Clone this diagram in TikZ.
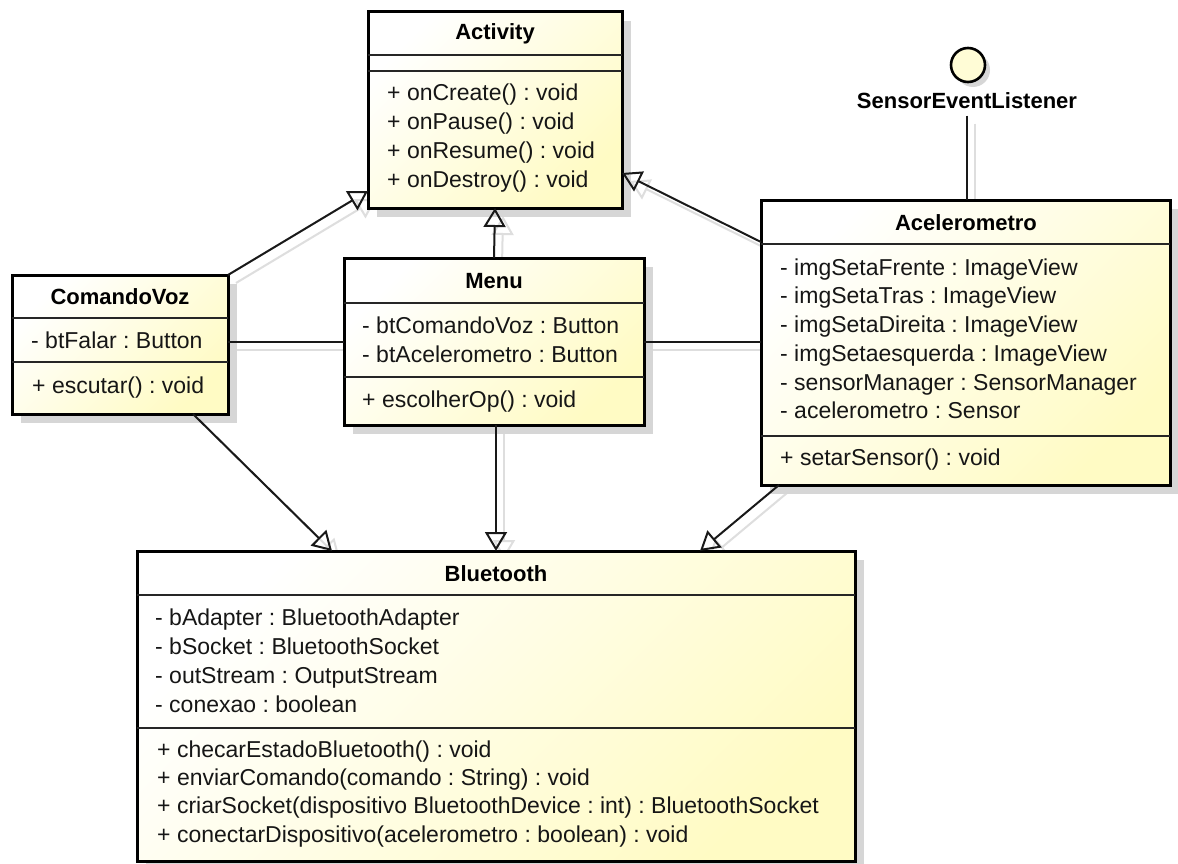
\documentclass[tikz,border=0pt]{standalone}
\usepackage{fontspec}
\setmainfont{Liberation Sans}
\usetikzlibrary{arrows.meta,shadows}
\definecolor{cream}{RGB}{255,251,196}
\definecolor{txtc}{RGB}{22,22,22}
\pgfdeclarelayer{bg}
\pgfsetlayers{bg,main}
\frenchspacing
\begin{document}
\begin{tikzpicture}[x=1pt,y=-1pt,
  classbox/.style={draw=black, line width=3pt, inner sep=0pt, outer sep=0pt, anchor=north west,
    top color=white, bottom color=cream, shading angle=45,
    drop shadow={shadow xshift=9pt, shadow yshift=-9pt, fill=black!16, opacity=1}},
  sepline/.style={draw=black!85, line width=1.6pt},
  mem/.style={anchor=west, inner sep=0pt, text=txtc, text height=16pt, text depth=5pt,
    font=\fontsize{23}{27}\selectfont},
  ttl/.style={anchor=center, inner sep=0pt, text=black, text height=16pt, text depth=5pt,
    font=\fontsize{22}{26}\selectfont\bfseries},
  gen/.style={draw=black!90, line width=2pt, -{Triangle[open, length=19pt, width=22pt, line width=2pt]}},
  assoc/.style={draw=black!90, line width=2pt},
  lshadow/.style={draw=black!13, line width=2pt},
  lshadowgen/.style={draw=black!13, line width=2pt, -{Triangle[open, length=19pt, width=22pt, line width=2pt]}},
]
\useasboundingbox (0,0) rectangle (1178,864);

% ---------- Activity ----------
\node[classbox, minimum width=254pt, minimum height=196pt] (act) at (368,12) {};
\node[ttl] (actT) at (495,34) {Activity};
\draw[sepline] (act.west |- 0,55) -- (act.east |- 0,55);
\draw[sepline] (act.west |- 0,71) -- (act.east |- 0,71);
\node[mem] (actM1) at (387,95) {+ onCreate() : void};
\node[mem] (actM2) at (387,124) {+ onPause() : void};
\node[mem] (actM3) at (387,153) {+ onResume() : void};
\node[mem] (actM4) at (387,182) {+ onDestroy() : void};

% ---------- ComandoVoz ----------
\node[classbox, minimum width=216pt, minimum height=139pt] (cv) at (12,275) {};
\node[ttl] (cvT) at (120,299) {ComandoVoz};
\draw[sepline] (cv.west |- 0,318) -- (cv.east |- 0,318);
\draw[sepline] (cv.west |- 0,362) -- (cv.east |- 0,362);
\node[mem] (cvA1) at (31,343) {- btFalar : Button};
\node[mem] (cvM1) at (32,388) {+ escutar() : void};

% ---------- Menu ----------
\node[classbox, minimum width=300pt, minimum height=167pt] (menu) at (344,258) {};
\node[ttl] (menuT) at (494,283) {Menu};
\draw[sepline] (menu.west |- 0,303) -- (menu.east |- 0,303);
\draw[sepline] (menu.west |- 0,377) -- (menu.east |- 0,377);
\node[mem] (menuA1) at (362,328) {- btComandoVoz : Button};
\node[mem] (menuA2) at (362,357) {- btAcelerometro : Button};
\node[mem] (menuM1) at (362,402) {+ escolherOp() : void};

% ---------- Acelerometro ----------
\node[classbox, minimum width=409pt, minimum height=285pt] (acc) at (761,200) {};
\node[ttl] (accT) at (966,225) {Acelerometro};
\draw[sepline] (acc.west |- 0,244) -- (acc.east |- 0,244);
\draw[sepline] (acc.west |- 0,436) -- (acc.east |- 0,436);
\node[mem] (accA1) at (780,270) {- imgSetaFrente : ImageView};
\node[mem] (accA2) at (780,298) {- imgSetaTras : ImageView};
\node[mem] (accA3) at (780,327) {- imgSetaDireita : ImageView};
\node[mem] (accA4) at (780,356) {- imgSetaesquerda : ImageView};
\node[mem] (accA5) at (780,385) {- sensorManager : SensorManager};
\node[mem] (accA6) at (780,413) {- acelerometro : Sensor};
\node[mem] (accM1) at (780,460) {+ setarSensor() : void};

% ---------- Bluetooth ----------
\node[classbox, minimum width=718pt, minimum height=310pt] (bt) at (137,551) {};
\node[ttl] (btT) at (496,576) {Bluetooth};
\draw[sepline] (bt.west |- 0,595) -- (bt.east |- 0,595);
\draw[sepline] (bt.west |- 0,728) -- (bt.east |- 0,728);
\node[mem] (btA1) at (155,620) {- bAdapter : BluetoothAdapter};
\node[mem] (btA2) at (155,649) {- bSocket : BluetoothSocket};
\node[mem] (btA3) at (155,678) {- outStream : OutputStream};
\node[mem] (btA4) at (155,707) {- conexao : boolean};
\node[mem] (btM1) at (157,752) {+ checarEstadoBluetooth() : void};
\node[mem] (btM2) at (157,780) {+ enviarComando(comando : String) : void};
\node[mem] (btM3) at (157,808) {+ criarSocket(dispositivo BluetoothDevice : int) : BluetoothSocket};
\node[mem] (btM4) at (157,837) {+ conectarDispositivo(acelerometro : boolean) : void};

% ---------- Interface ----------
\node[circle, draw=black, line width=2.6pt, fill=cream!70, minimum size=34pt, inner sep=0pt,
  drop shadow={shadow xshift=5pt, shadow yshift=-5pt, fill=black!16, opacity=1}] (sel) at (968,65) {};
\node[ttl, inner sep=2pt] (selL) at (967,103) {SensorEventListener};

% ---------- connector shadows ----------
\begin{pgfonlayer}{bg}
\fill[white] (0,0) rectangle (1178,864);
\begin{scope}[transform canvas={shift={(8pt,-8pt)}}]
\draw[lshadowgen] (cv.north east) -- (act.west |- 0,191);
\draw[lshadowgen] (menu.north) -- (act.south);
\draw[lshadowgen] (acc.west |- 0,242) -- (act.east |- 0,173);
\draw[lshadow] (cv.east |- 0,342) -- (menu.west |- 0,342);
\draw[lshadow] (menu.east |- 0,342) -- (acc.west |- 0,342);
\draw[lshadowgen] (cv.south -| 193,0) -- (bt.north -| 332,0);
\draw[lshadowgen] (menu.south -| 496,0) -- (bt.north -| 496,0);
\draw[lshadowgen] (acc.south -| 779,0) -- (bt.north -| 700,0);
\draw[lshadow] (selL.south) -- (acc.north -| selL.south);
\end{scope}
\end{pgfonlayer}

% ---------- connectors ----------
\draw[gen] (cv.north east) -- (act.west |- 0,191);
\draw[gen] (menu.north) -- (act.south);
\draw[gen] (acc.west |- 0,242) -- (act.east |- 0,173);
\draw[assoc] (cv.east |- 0,342) -- (menu.west |- 0,342);
\draw[assoc] (menu.east |- 0,342) -- (acc.west |- 0,342);
\draw[gen] (cv.south -| 193,0) -- (bt.north -| 332,0);
\draw[gen] (menu.south -| 496,0) -- (bt.north -| 496,0);
\draw[gen] (acc.south -| 779,0) -- (bt.north -| 700,0);
\draw[assoc] (selL.south) -- (acc.north -| selL.south);
\end{tikzpicture}
\end{document}
